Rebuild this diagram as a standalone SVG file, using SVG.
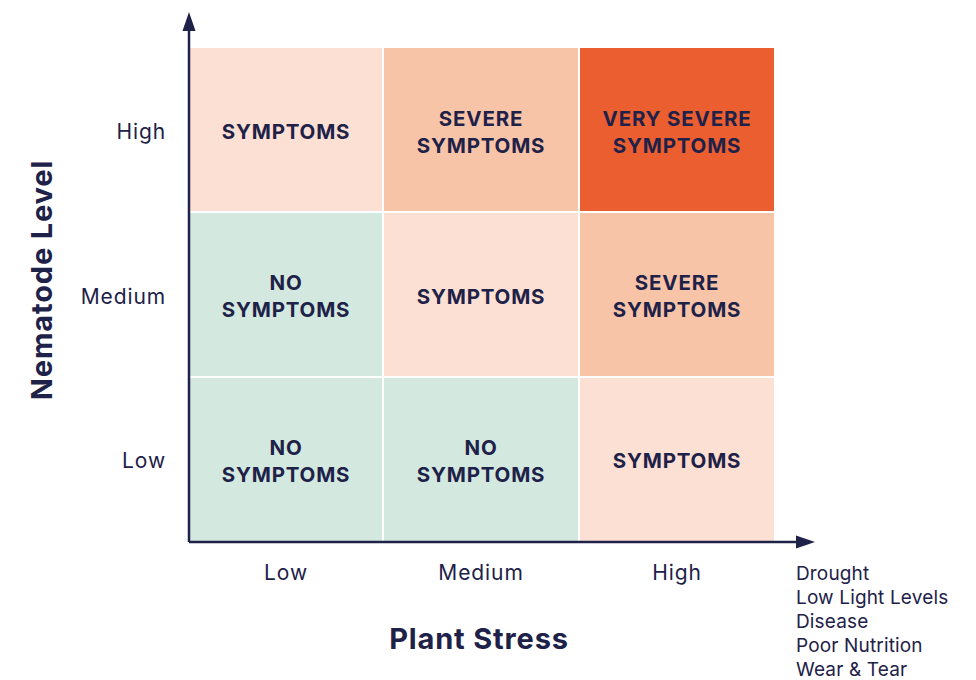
<svg xmlns="http://www.w3.org/2000/svg" width="976" height="680" viewBox="0 0 976 680">
<style>
.c{font-family:Inter,"Noto Sans","Liberation Sans",sans-serif;font-weight:700;font-size:20.5px;letter-spacing:0.8px;fill:#1E2148;text-anchor:middle}
.t{font-family:Inter,"Noto Sans","Liberation Sans",sans-serif;font-weight:400;font-size:21px;letter-spacing:0.9px;fill:#1E2148}
.a{font-family:Inter,"Noto Sans","Liberation Sans",sans-serif;font-weight:700;font-size:29px;letter-spacing:0.85px;fill:#1E2148;text-anchor:middle}
.l{font-family:Inter,"Noto Sans","Liberation Sans",sans-serif;font-weight:400;font-size:19px;letter-spacing:0.15px;fill:#1E2148}
.p1{fill:#FCE0D3}.p2{fill:#F8C4A8}.p3{fill:#EB5E30}.g{fill:#D3E9DF}
</style>
<rect width="976" height="680" fill="#fff"/>
<g id="cell-high-low"><rect class="p1" x="190" y="48" width="192" height="163"/><text class="c" x="286" y="139">SYMPTOMS</text></g>
<g id="cell-high-medium"><rect class="p2" x="384" y="48" width="194" height="163"/><text class="c" x="481" y="126">SEVERE</text><text class="c" x="481" y="153">SYMPTOMS</text></g>
<g id="cell-high-high"><rect class="p3" x="580" y="48" width="194" height="163"/><text class="c" x="677" y="126">VERY SEVERE</text><text class="c" x="677" y="153">SYMPTOMS</text></g>
<g id="cell-medium-low"><rect class="g" x="190" y="213" width="192" height="163"/><text class="c" x="286" y="290">NO</text><text class="c" x="286" y="317">SYMPTOMS</text></g>
<g id="cell-medium-medium"><rect class="p1" x="384" y="213" width="194" height="163"/><text class="c" x="481" y="304">SYMPTOMS</text></g>
<g id="cell-medium-high"><rect class="p2" x="580" y="213" width="194" height="163"/><text class="c" x="677" y="290">SEVERE</text><text class="c" x="677" y="317">SYMPTOMS</text></g>
<g id="cell-low-low"><rect class="g" x="190" y="378" width="192" height="163"/><text class="c" x="286" y="455">NO</text><text class="c" x="286" y="482">SYMPTOMS</text></g>
<g id="cell-low-medium"><rect class="g" x="384" y="378" width="194" height="163"/><text class="c" x="481" y="455">NO</text><text class="c" x="481" y="482">SYMPTOMS</text></g>
<g id="cell-low-high"><rect class="p1" x="580" y="378" width="194" height="163"/><text class="c" x="677" y="468">SYMPTOMS</text></g>
<g id="connectors" fill="#1E2148" stroke="#1E2148">
<path d="M189 542 V26" stroke-width="2.5" fill="none"/>
<path d="M189 542 H800" stroke-width="2.5" fill="none"/>
<polygon points="189,12 182.5,31 195.5,31" stroke="none"/>
<polygon points="815,542 796,535.5 796,548.5" stroke="none"/>
</g>
<g id="y-labels">
<text class="t" x="166" y="139" text-anchor="end">High</text>
<text class="t" x="166" y="304" text-anchor="end">Medium</text>
<text class="t" x="166" y="468" text-anchor="end">Low</text>
</g>
<g id="x-labels">
<text class="t" x="286" y="580" text-anchor="middle">Low</text>
<text class="t" x="481" y="580" text-anchor="middle">Medium</text>
<text class="t" x="677" y="580" text-anchor="middle">High</text>
</g>
<text class="a" x="479" y="649">Plant Stress</text>
<text class="a" transform="translate(52 280) rotate(-90)">Nematode Level</text>
<g id="stress-list">
<text class="l" x="796" y="580">Drought</text>
<text class="l" x="796" y="604">Low Light Levels</text>
<text class="l" x="796" y="628">Disease</text>
<text class="l" x="796" y="652">Poor Nutrition</text>
<text class="l" x="796" y="676">Wear &amp; Tear</text>
</g>
</svg>
